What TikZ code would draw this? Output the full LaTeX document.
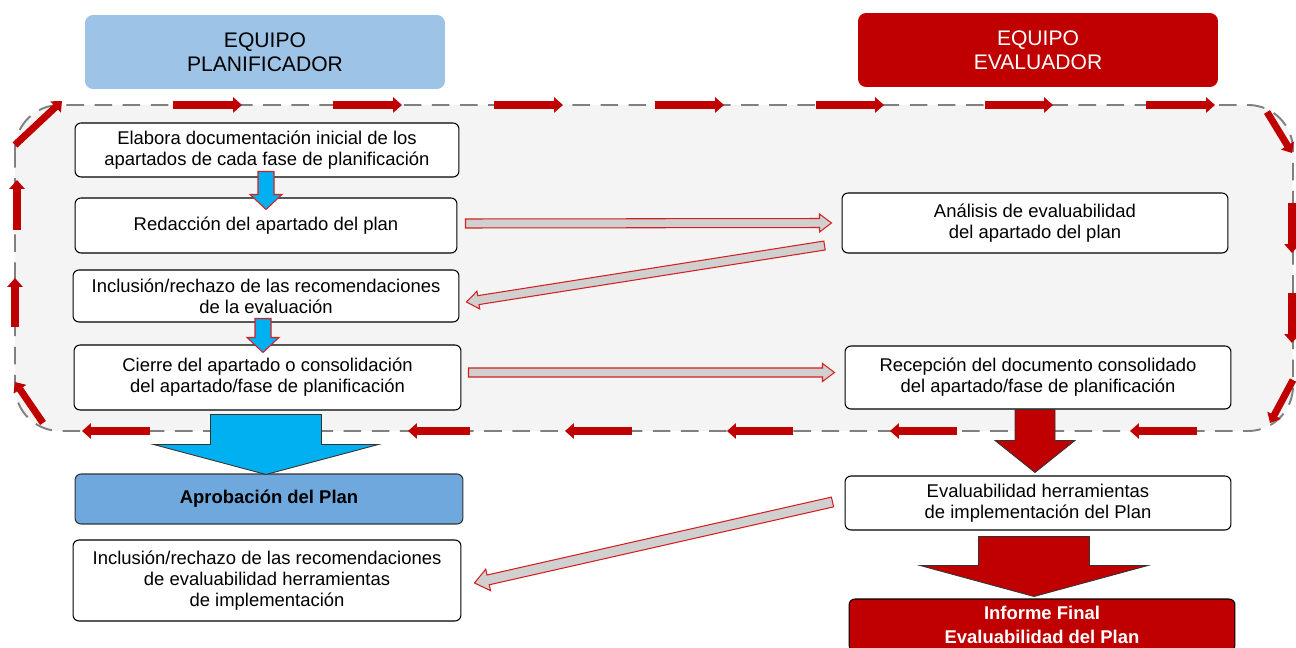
\documentclass[tikz,border=0pt]{standalone}
\usepackage{fontspec}
\setmainfont{Liberation Sans}
\usetikzlibrary{arrows.meta,calc}
\definecolor{darkred}{HTML}{C00000}
\definecolor{headblue}{HTML}{9DC3E6}
\definecolor{planblue}{HTML}{6FA8DC}
\definecolor{cyanfill}{HTML}{00B0F0}
\definecolor{loopfill}{HTML}{F4F4F4}
\definecolor{connfill}{HTML}{D0D0D0}
\definecolor{connline}{HTML}{D42020}
\definecolor{loopgray}{HTML}{808080}

% block arrow: [style]{from}{to}{half shaft}{half head}{head length}, sizes in px
\newcommand{\blkarrow}[6][]{%
  \pgfmathsetlengthmacro\baw{#4*0.02cm}%
  \pgfmathsetlengthmacro\bah{#5*0.02cm}%
  \pgfmathsetlengthmacro\bal{#6*0.02cm}%
  \coordinate (bh) at ($(#3)!\bal!(#2)$);
  \draw[#1] ($(#2)!\baw!90:(#3)$) -- ($(bh)!\baw!90:(#3)$) -- ($(bh)!\bah!90:(#3)$)
    -- (#3) -- ($(bh)!\bah!-90:(#3)$) -- ($(bh)!\baw!-90:(#3)$) -- ($(#2)!\baw!-90:(#3)$) -- cycle;
}

\begin{document}
\begin{tikzpicture}[x=0.02cm, y=-0.02cm,
    box/.style={draw, rounded corners=0.12cm, fill=white, align=center, line width=0.6pt,
      font=\fontsize{10.5}{12}\selectfont, inner sep=0pt},
    head/.style={rounded corners=0.16cm, align=center, font=\fontsize{12}{13.6}\selectfont,
      minimum width=7.2cm, minimum height=1.48cm},
    looparr/.style={draw=darkred, line width=4pt, -{Triangle[length=5pt,width=8.5pt]}},
    grayconn/.style={fill=connfill, draw=connline, line width=0.6pt},
    cyanarr/.style={fill=cyanfill, draw=connline, line width=0.6pt},
    bigblue/.style={fill=cyanfill, draw=black!80, line width=0.5pt},
    bigred/.style={fill=darkred, draw=black!80, line width=0.5pt}]
  \useasboundingbox (0,0) rectangle (1296,648);

  % headers
  \node [head, fill=headblue] (hplan) at (265,52) {EQUIPO\\PLANIFICADOR};
  \node [head, fill=darkred, text=white] (heval) at (1038,50) {EQUIPO\\EVALUADOR};

  % dashed loop
  \draw [draw=loopgray, fill=loopfill, line width=1.1pt, dash pattern=on 10pt off 6pt,
    rounded corners=0.9cm] (15,105) rectangle (1293,431);

  % planner column
  \node [box, minimum width=7.68cm, minimum height=1.08cm] (b1) at (267,150)
    {Elabora documentación inicial de los\\apartados de cada fase de planificación};
  \node [box, minimum width=7.64cm, minimum height=1.1cm] (b2) at (266,225.5)
    {Redacción del apartado del plan};
  \node [box, minimum width=7.72cm, minimum height=1.04cm] (b3) at (266,296)
    {Inclusión/rechazo de las recomendaciones\\de la evaluación};
  \node [box, minimum width=7.74cm, minimum height=1.3cm] (b4) at (267.5,377.5)
    {Cierre del apartado o consolidación\\del apartado/fase de planificación};
  \node [box, fill=planblue, draw=black!80, minimum width=7.76cm, minimum height=1cm,
    font=\fontsize{10.5}{12}\selectfont\bfseries] (b5) at (269,499) {Aprobación del Plan};
  \node [box, minimum width=7.76cm, minimum height=1.62cm] (b6) at (267,580.5)
    {Inclusión/rechazo de las recomendaciones\\de evaluabilidad herramientas\\de implementación};

  % evaluator column
  \node [box, minimum width=7.72cm, minimum height=1.2cm] (r1) at (1035,223)
    {Análisis de evaluabilidad\\del apartado del plan};
  \node [box, minimum width=7.72cm, minimum height=1.26cm] (r2) at (1038,377.5)
    {Recepción del documento consolidado\\del apartado/fase de planificación};
  \node [box, minimum width=7.72cm, minimum height=1.08cm] (r3) at (1038,503)
    {Evaluabilidad herramientas\\de implementación del Plan};
  \node [box, fill=darkred, text=white, minimum width=7.72cm, minimum height=1.04cm,
    font=\fontsize{10.5}{13.6}\selectfont\bfseries] (r4) at (1042,625)
    {Informe Final\\Evaluabilidad del Plan};

  % arrows round the loop
  \foreach \xa/\ya/\xb/\yb in {173/105/242/105, 333/105/402/105, 494/105/563/105,
      655/105/724/105, 816/105/884/105, 985/105/1053/105, 1146/105/1215/105,
      1267/112/1292/153, 1292/203/1292/253, 1292/293/1292/343, 1293/380/1270/423,
      1197/431/1130/431, 957/431/890/431, 793/431/727/431, 632/431/565/431,
      470/431/408/431, 150/431/82/431, 43/423/15/382, 15/327/15/278,
      17/230/17/180, 15/145/62/101}
    \draw [looparr] (\xa,\ya) -- (\xb,\yb);

  % connectors between the teams
  \coordinate (g1s) at ($(b2.east)+(8,-2)$);
  \coordinate (g1e) at ($(r1.west)+(-10,0)$);
  \coordinate (g2s) at ($(r1.south west)+(-17,-8)$);
  \coordinate (g2e) at ($(b3.east)+(7,6)$);
  \coordinate (g3s) at ($(b4.east)+(7,-5)$);
  \coordinate (g3e) at ($(r2.west)+(-10,-5)$);
  \coordinate (g4s) at ($(r3.west)+(-12,-1)$);
  \coordinate (g4e) at ($(b6.east)+(13,2.5)$);
  \blkarrow[grayconn]{g1s}{g1e}{4.5}{9}{12}
  \blkarrow[grayconn]{g2s}{g2e}{4.5}{9}{12}
  \blkarrow[grayconn]{g3s}{g3e}{4.5}{9}{12}
  \blkarrow[grayconn]{g4s}{g4e}{5}{11}{14}

  % down arrows
  \coordinate (c1s) at ($(b1.south)+(-1,-6)$);
  \coordinate (c1e) at ($(b2.north)+(0,12)$);
  \coordinate (c2s) at ($(b3.south)+(-3,-4)$);
  \coordinate (c2e) at ($(b4.north)+(-4.5,8)$);
  \coordinate (c3s) at ($(b4.south)+(-1.5,4)$);
  \coordinate (c3e) at ($(b5.north)+(-3,1)$);
  \coordinate (c4s) at ($(r2.south)+(-3,0)$);
  \coordinate (c4e) at ($(r3.north)+(-3,-3)$);
  \coordinate (c5s) at ($(r3.south)+(-4,6)$);
  \coordinate (c5e) at ($(r4.north)+(-8,-2)$);
  \blkarrow[cyanarr]{c1s}{c1e}{8}{16}{15}
  \blkarrow[cyanarr]{c2s}{c2e}{8}{16}{15}
  \blkarrow[bigblue]{c3s}{c3e}{55.5}{112.5}{30}
  \blkarrow[bigred]{c4s}{c4e}{20}{40}{32}
  \blkarrow[bigred]{c5s}{c5e}{55.5}{114}{31}
\end{tikzpicture}
\end{document}
